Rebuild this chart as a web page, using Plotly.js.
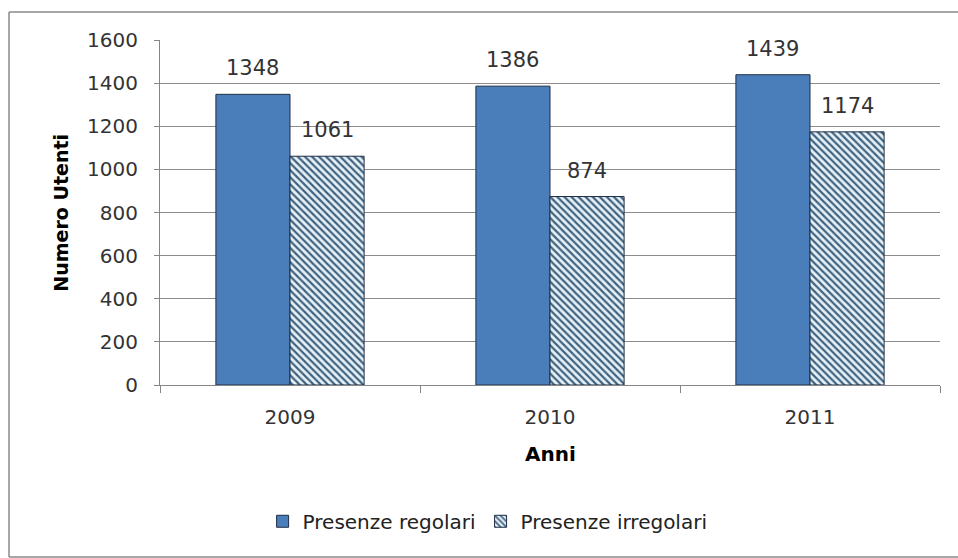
<!DOCTYPE html>
<html>
<head>
<meta charset="utf-8">
<script src="https://cdn.plot.ly/plotly-3.0.1.min.js"></script>
<style>html,body{margin:0;padding:0;background:#fff;}#chart{width:958px;height:558px;}</style>
</head>
<body>
<div id="chart"></div>
<script>
const categories = ['2009', '2010', '2011'];
const regolari = [1348, 1386, 1439];
const irregolari = [1061, 874, 1174];
const seriesNames = ['Presenze regolari', 'Presenze irregolari'];
const yTicks = [0, 200, 400, 600, 800, 1000, 1200, 1400, 1600];

const tickFont = {family: 'DejaVu Sans', size: 20, color: '#333'};
const barWidthFrac = 0.285;

const traces = [
  {
    type: 'bar', name: seriesNames[0], x: categories, y: regolari,
    marker: {color: '#4a7ebb', line: {color: '#1f2d45', width: 1}},
    hoverinfo: 'skip'
  },
  {
    type: 'bar', name: seriesNames[1], x: categories, y: irregolari,
    marker: {
      color: '#ffffff',
      pattern: {shape: '\\', fgcolor: '#3f6482', bgcolor: '#e8f0f6', size: 5, solidity: 0.45},
      line: {color: '#1f2d45', width: 1}
    },
    hoverinfo: 'skip'
  }
];

const annotations = [];
[regolari, irregolari].forEach((vals, s) => {
  vals.forEach((v, i) => {
    annotations.push({
      x: i + (s === 0 ? -1 : 1) * barWidthFrac / 2, y: v, xref: 'x', yref: 'y',
      text: String(v), showarrow: false, yanchor: 'middle', yshift: 26,
      font: {family: 'DejaVu Sans', size: 21, color: '#333'}
    });
  });
});
annotations.push({
  xref: 'paper', yref: 'paper', x: 0.5, y: -0.2, yanchor: 'middle', xanchor: 'center',
  text: '<b>Anni</b>', showarrow: false, font: {family: 'DejaVu Sans', size: 20, color: '#000'}
});
annotations.push({
  xref: 'paper', yref: 'paper', x: -0.128, y: 0.5, xanchor: 'center', yanchor: 'middle',
  text: '<b>Numero Utenti</b>', textangle: -90, showarrow: false,
  font: {family: 'DejaVu Sans', size: 19, color: '#000'}
});

const borderLine = {color: '#8a8a8a', width: 1.5};
const layout = {
  width: 958, height: 558,
  margin: {l: 160, r: 18, t: 40, b: 173},
  paper_bgcolor: '#ffffff', plot_bgcolor: '#ffffff',
  barmode: 'group', bargap: 0.43, bargroupgap: 0,
  showlegend: true,
  legend: {
    orientation: 'h', x: 0.42, xanchor: 'center', y: -0.395, yanchor: 'middle',
    font: {family: 'DejaVu Sans', size: 20, color: '#222'},
    itemwidth: 30, traceorder: 'normal'
  },
  xaxis: {
    type: 'category', tickfont: tickFont,
    showline: true, linecolor: '#868686', linewidth: 1,
    ticks: 'outside', tickson: 'boundaries', ticklen: 7, tickcolor: '#868686',
    ticklabelstandoff: 14,
    showgrid: false, zeroline: false, fixedrange: true
  },
  yaxis: {
    range: [0, 1600], tickvals: yTicks, ticktext: yTicks.map(String), tickfont: tickFont,
    showline: true, linecolor: '#868686', linewidth: 1,
    ticks: 'outside', ticklen: 5, tickcolor: '#868686', ticklabelstandoff: 12,
    showgrid: true, gridcolor: '#8c8c8c', gridwidth: 1, zeroline: false, fixedrange: true
  },
  annotations: annotations,
  shapes: [
    {type: 'line', xref: 'paper', yref: 'paper', x0: -0.1936, x1: 1.1, y0: 1.0812, y1: 1.0812, line: borderLine, layer: 'below'},
    {type: 'line', xref: 'paper', yref: 'paper', x0: -0.1936, x1: -0.1936, y0: -0.4986, y1: 1.0812, line: borderLine, layer: 'below'},
    {type: 'line', xref: 'paper', yref: 'paper', x0: -0.1936, x1: 1.1, y0: -0.4986, y1: -0.4986, line: borderLine, layer: 'below'}
  ]
};

Plotly.newPlot('chart', traces, layout, {displayModeBar: false, staticPlot: true});
</script>
</body>
</html>
